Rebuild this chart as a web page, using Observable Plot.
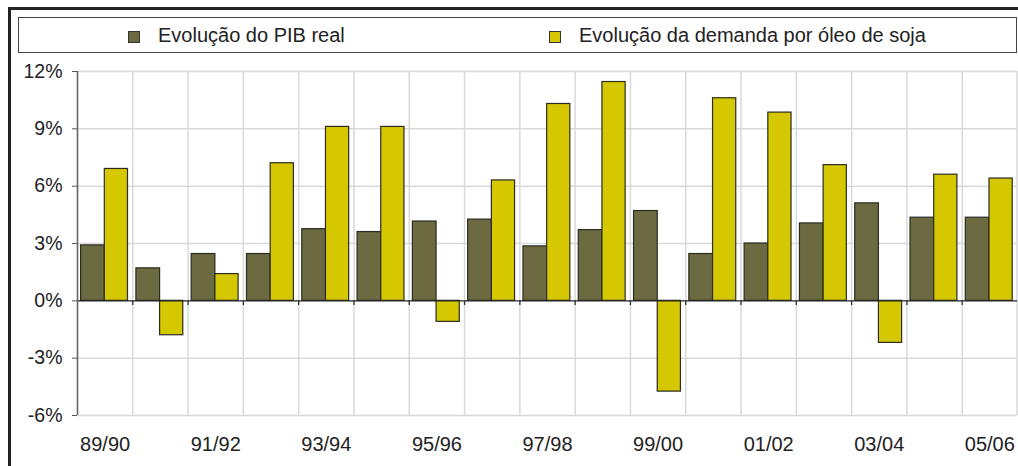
<!DOCTYPE html>
<html>
<head>
<meta charset="utf-8">
<script src="https://cdn.jsdelivr.net/npm/d3@7"></script>
<script src="https://cdn.jsdelivr.net/npm/@observablehq/plot@0.6"></script>
<style>
  html, body { margin: 0; padding: 0; background: #fff; overflow: hidden; }
  body { width: 1018px; height: 466px; position: relative; font-family: "Liberation Sans", Arial, sans-serif; color: #222; }
  #frame { position: absolute; left: 8px; top: 7px; width: 1100px; height: 600px; border-top: 3px solid #222; border-left: 3px solid #222; }
  #legend { position: absolute; left: 18px; top: 17px; width: 997px; height: 34px; border: 1px solid #444; background: #fff; }
  .item { position: absolute; top: 0; height: 34px; line-height: 34px; font-size: 20px; white-space: nowrap; color: #222; }
  .sw { position: absolute; top: 13px; width: 10px; height: 10px; border: 1px solid #333; }
  #chart { position: absolute; left: 0; top: 56px; }
  #chart svg { background: transparent !important; }
</style>
</head>
<body>
<div id="frame"></div>
<div id="legend"></div>
<div id="chart"></div>
<script>
const years = ["89/90","90/91","91/92","92/93","93/94","94/95","95/96","96/97","97/98","98/99","99/00","00/01","01/02","02/03","03/04","04/05","05/06"];
const pib = [2.9, 1.7, 2.45, 2.45, 3.75, 3.6, 4.15, 4.25, 2.85, 3.7, 4.7, 2.45, 3.0, 4.05, 5.1, 4.35, 4.35];
const soy = [6.9, -1.8, 1.4, 7.2, 9.1, 9.1, -1.1, 6.3, 10.3, 11.45, -4.75, 10.6, 9.85, 7.1, -2.2, 6.6, 6.4];
const seriesNames = ["Evolução do PIB real", "Evolução da demanda por óleo de soja"];
const seriesColors = ["#6b6a40", "#d6c800"];
const yTicks = [-6, -3, 0, 3, 6, 9, 12];
const xTickLabels = ["89/90","91/92","93/94","95/96","97/98","99/00","01/02","03/04","05/06"];

// legend (HTML, above the SVG)
const legend = document.getElementById("legend");
const legendPos = [[109, 139], [530, 560]];
seriesNames.forEach((name, i) => {
  const sw = document.createElement("div");
  sw.className = "sw";
  sw.style.left = legendPos[i][0] + "px";
  sw.style.background = seriesColors[i];
  legend.appendChild(sw);
  const t = document.createElement("div");
  t.className = "item";
  t.style.left = legendPos[i][1] + "px";
  t.textContent = name;
  legend.appendChild(t);
});

const rows = years.map((y, i) => ({year: y, pib: pib[i], soy: soy[i]}));

const width = 1018, height = 410;
const marginLeft = 77, marginRight = 1, marginTop = 15, marginBottom = 51;
const bw = (width - marginLeft - marginRight) / years.length;
const gridY = yTicks.filter(d => d !== 0);

const chart = Plot.plot({
  width, height, marginLeft, marginRight, marginTop, marginBottom,
  style: {fontFamily: "Liberation Sans, Arial, sans-serif", color: "#222", background: "transparent"},
  x: {domain: years, padding: 0, round: false, label: null},
  y: {domain: [-6, 12], label: null},
  marks: [
    Plot.ruleY(gridY, {stroke: "#d9d9d9", strokeWidth: 1.5}),
    Plot.ruleX(years, {x: d => d, y1: -6, y2: 12, dx: -bw / 2, stroke: "#d9d9d9", strokeWidth: 1.5}),
    Plot.ruleX([years[years.length - 1]], {x: d => d, y1: -6, y2: 12, dx: bw / 2 - 0.5, stroke: "#d9d9d9", strokeWidth: 1.5}),
    Plot.barY(rows, {x: "year", y: "pib", fill: seriesColors[0], stroke: "#2b2b22", strokeWidth: 1.2, insetLeft: 3.6, insetRight: bw - 27.3}),
    Plot.barY(rows, {x: "year", y: "soy", fill: seriesColors[1], stroke: "#2b2b22", strokeWidth: 1.2, insetLeft: 27.3, insetRight: 4.8}),
    Plot.ruleY([0], {stroke: "#222", strokeWidth: 1.4}),
    Plot.ruleX(years.slice(1), {x: d => d, y1: 0, y2: -0.25, dx: -bw / 2, stroke: "#333", strokeWidth: 1.3}),
    Plot.ruleX([years[0]], {x: d => d, y1: -6, y2: 12, dx: -bw / 2, stroke: "#666", strokeWidth: 1.5}),
    Plot.axisY({ticks: yTicks, tickFormat: d => d + "%", tickSize: 5, tickPadding: 10, fontSize: 19.5, stroke: "#555", fill: "#222", label: null}),
    Plot.axisX({ticks: xTickLabels, tickSize: 0, tickPadding: 21, fontSize: 20, fill: "#222", label: null})
  ]
});
document.getElementById("chart").appendChild(chart);
</script>
</body>
</html>
